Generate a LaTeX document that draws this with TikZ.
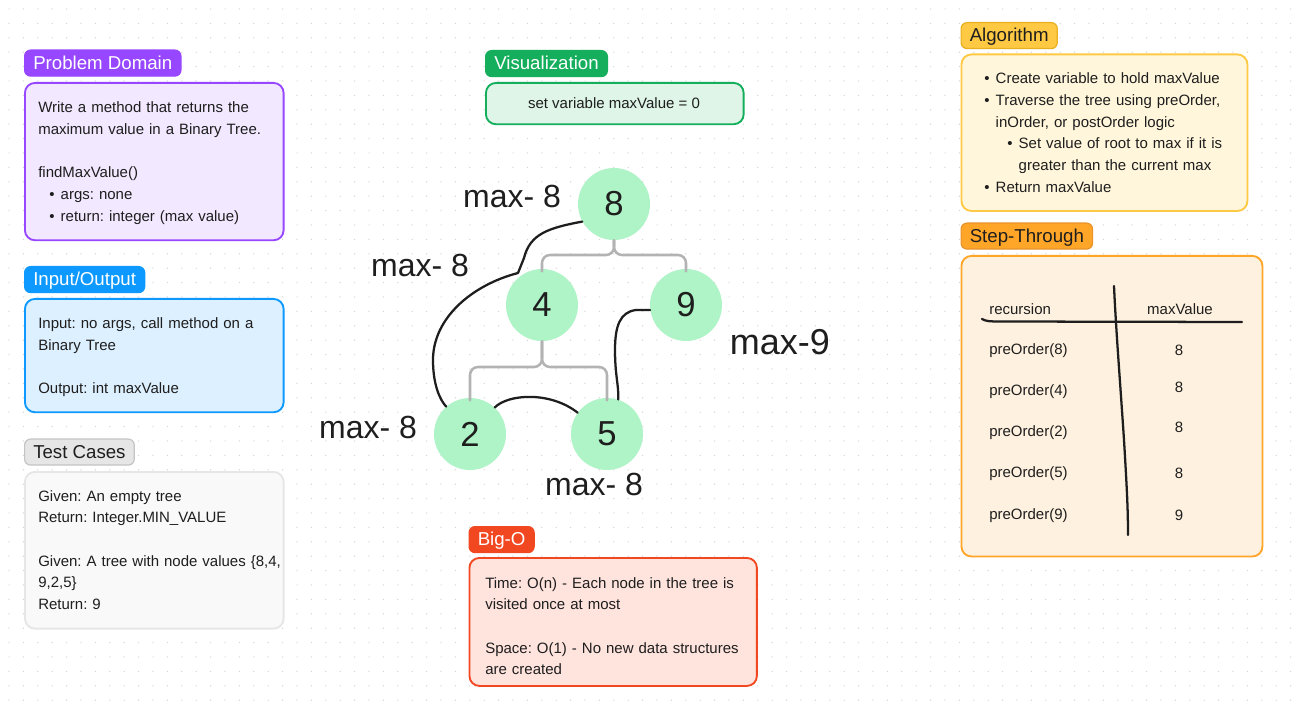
\documentclass[tikz,border=0pt]{standalone}
\usepackage{fontspec}
\setmainfont{Liberation Sans}
\usepackage{tikz}
\frenchspacing
\definecolor{ink}{HTML}{1E1E1E}
\definecolor{dotc}{HTML}{D6D6D6}
\definecolor{edge}{HTML}{B3B3B3}
\definecolor{mint}{HTML}{AFF4C6}
\definecolor{violet}{HTML}{9747FF}
\definecolor{violetbg}{HTML}{F2E8FF}
\definecolor{sky}{HTML}{0D99FF}
\definecolor{skybg}{HTML}{DDF0FF}
\definecolor{leaf}{HTML}{14AE5C}
\definecolor{leafbg}{HTML}{DEF5E8}
\definecolor{sun}{HTML}{FFC943}
\definecolor{sunline}{HTML}{E8B020}
\definecolor{sunbg}{HTML}{FFF6DB}
\definecolor{amber}{HTML}{FFA629}
\definecolor{amberline}{HTML}{E8922A}
\definecolor{amberbg}{HTML}{FFF1DF}
\definecolor{brick}{HTML}{F24822}
\definecolor{brickbg}{HTML}{FFE3DD}
\definecolor{ash}{HTML}{E6E6E6}
\definecolor{ashline}{HTML}{C4C4C4}
\definecolor{ashbg}{HTML}{F9F9F9}
\newcommand{\bul}{\makebox[8.6pt][l]{\textbullet}}
\tikzset{
  tag/.style={anchor=north west, rounded corners=4.5pt, line width=0.9pt, minimum height=19.5pt,
    inner xsep=6.5pt, inner ysep=0pt, text height=10pt, text depth=1pt, font=\fontsize{14}{16}\selectfont},
  panel/.style={anchor=north west, rounded corners=7.5pt, line width=1.4pt, inner sep=0pt},
  txt/.style={anchor=base west, align=left, text width=240pt, inner sep=0pt, text=ink,
    font=\fontsize{11.25}{16.3}\selectfont},
  cell/.style={text=ink, inner sep=0pt, font=\fontsize{11.25}{14}\selectfont},
  vert/.style={circle, fill=mint, minimum size=54pt, inner sep=0pt, text=ink, font=\fontsize{26}{26}\selectfont},
  brace/.style={draw=edge, line width=1.9pt, rounded corners=6pt, line cap=round},
  pen/.style={draw=ink, line width=1.7pt, line cap=round, line join=round},
  hw/.style={text=ink, inner sep=0pt, font=\fontsize{24}{24}\selectfont},
}

\begin{document}
\begin{tikzpicture}[x=0.75pt, y=-0.75pt]
  \fill[white] (0,0) rectangle (1297,702);
  \useasboundingbox (0,0) rectangle (1297,702);
  \foreach \i in {0,...,89}
    \foreach \j in {0,...,48}
      \fill[dotc] (9+14.4*\i, 9+14.4*\j) circle (0.55pt);

  % left column
  \node[tag, fill=violet, draw=violet, text=white] (pdtag) at (24,49.5) {Problem Domain};
  \node[panel, fill=violetbg, draw=violet, minimum width=194pt, minimum height=118pt] (pdbox) at (24,82) {};
  \node[txt] (pdtext) at (38,112.7) {Write a method that returns the\\
    maximum value in a Binary Tree.\\[16.3pt]
    findMaxValue()\\
    \hspace*{8.25pt}\bul args: none\\
    \hspace*{8.25pt}\bul return: integer (max value)};

  \node[tag, fill=sky, draw=sky, text=white] (iotag) at (24,266) {Input/Output};
  \node[panel, fill=skybg, draw=sky, minimum width=194pt, minimum height=85pt] (iobox) at (24,298) {};
  \node[txt] (iotext) at (38,328.7) {Input: no args, call method on a\\
    Binary Tree\\[16.3pt]
    Output: int maxValue};

  \node[tag, fill=ash, draw=ashline, text=ink] (tctag) at (24,438.5) {Test Cases};
  \node[panel, fill=ashbg, draw=ash, minimum width=194pt, minimum height=117.5pt] (tcbox) at (24,471) {};
  \node[txt] (tctext) at (38,501) {Given: An empty tree\\
    Return: Integer.MIN\_VALUE\\[16.3pt]
    Given: A tree with node values \{8,4,\\
    9,2,5\}\\
    Return: 9};

  % middle column
  \node[tag, fill=leaf, draw=leaf, text=white] (vistag) at (485,50) {Visualization};
  \node[panel, fill=leafbg, draw=leaf, minimum width=193.3pt, minimum height=31pt] (visbox) at (485,82) {};
  \node[cell] (vistext) at (614,103.3) {set variable maxValue = 0};

  \node[vert] (n8) at (614,204) {8};
  \node[vert] (n4) at (542,305) {4};
  \node[vert] (n9) at (686,305) {9};
  \node[vert] (n2) at (470,434) {2};
  \node[vert] (n5) at (607,434) {5};

  \draw[brace] (n8.south) |- (542,255) -- ([yshift=-2pt]n4.north);
  \draw[brace] (n8.south) |- (686,255) -- ([yshift=-2pt]n9.north);
  \draw[brace] (n4.south) |- (470,367) -- ([yshift=-2pt]n2.north);
  \draw[brace] (n4.south) |- (607,367) -- ([yshift=-2pt]n5.north);

  \draw[pen] (n8.209) .. controls (548,228) and (530,234) .. (524,258) -- (518,273)
    .. controls (472,285) and (433,318) .. (433,360) .. controls (433,385) and (440,400) .. (n2.131);
  \draw[pen] (n2.47) .. controls (508,394) and (550,391) .. (n5.144);
  \draw[pen] (n9.188) -- (636,310) .. controls (620,312) and (615,326) .. (615,350)
    .. controls (615,376) and (619,386) .. (n5.72);

  \node[hw] (hw8) at (512,196) {max- 8};
  \node[hw] (hw4) at (420,265) {max- 8};
  \node[hw] (hw2) at (368,427) {max- 8};
  \node[hw] (hw5) at (594,484) {max- 8};
  \node[hw, font=\fontsize{27}{27}\selectfont] (hw9) at (780,342) {max-9};

  \node[tag, fill=brick, draw=brick, text=white] (bigtag) at (468.5,526) {Big-O};
  \node[panel, fill=brickbg, draw=brick, minimum width=215.6pt, minimum height=96pt] (bigbox) at (468.5,557) {};
  \node[txt] (bigtext) at (485,588) {Time: O(n) - Each node in the tree is\\
    visited once at most\\[16.3pt]
    Space: O(1) - No new data structures\\
    are created};

  % right column
  \node[tag, fill=sun, draw=sunline, text=ink] (algtag) at (960.5,22) {Algorithm};
  \node[panel, fill=sunbg, draw=sun, minimum width=214.5pt, minimum height=117.4pt] (algbox) at (960.5,53.5) {};
  \node[txt] (algtext) at (984,83.7) {\bul Create variable to hold maxValue\\
    \bul Traverse the tree using preOrder,\\
    \hspace*{8.6pt}inOrder, or postOrder logic\\
    \hspace*{17.25pt}\bul Set value of root to max if it is\\
    \hspace*{25.85pt}greater than the current max\\
    \bul Return maxValue};

  \node[tag, fill=amber, draw=amberline, text=ink] (sttag) at (960.5,222.5) {Step-Through};
  \node[panel, fill=amberbg, draw=amber, minimum width=225.75pt, minimum height=225.4pt] (stbox) at (960.5,255) {};
  \node[cell, anchor=west] (hrec) at (989,309) {recursion};
  \node[cell] (hmax) at (1180,309) {maxValue};
  \draw[pen] (982,319) .. controls (986,321.5) and (991,321.5) .. (1000,321.5) -- (1242,322);
  \draw[pen] (1114,286) .. controls (1116,330) and (1120,380) .. (1124,440)
    .. controls (1127,490) and (1128,510) .. (1128,535);
  \foreach \k/\v/\ry/\vy [count=\i] in {8/8/351/350, 4/8/392/387, 2/8/433/427, 5/8/474/473, 9/9/516/515} {
    \node[cell, anchor=west] (rec\i) at (989,\ry) {preOrder(\k)};
    \node[cell] (val\i) at (1179,\vy) {\v};
  }
\end{tikzpicture}
\end{document}
